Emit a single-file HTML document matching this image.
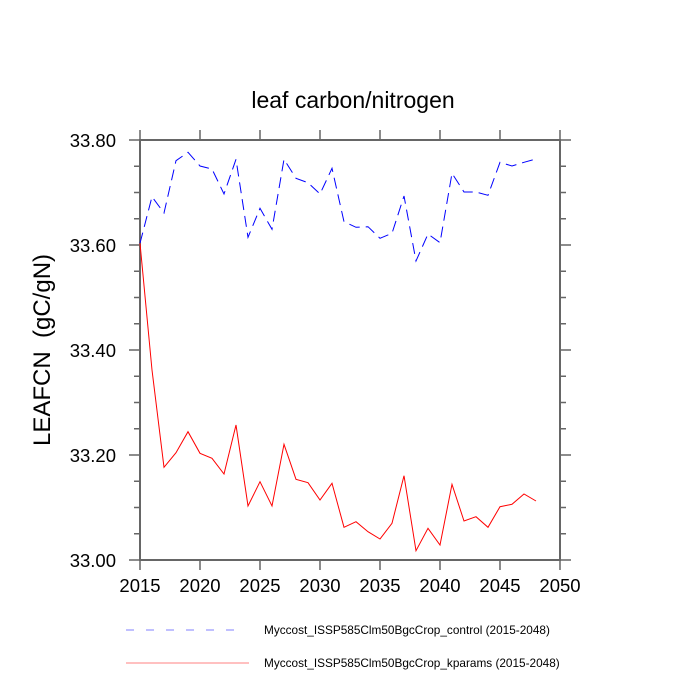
<!DOCTYPE html>
<html><head><meta charset="utf-8"><style>body{margin:0;background:#fff}svg{display:block}text{white-space:pre}</style></head>
<body>
<svg width="700" height="700" xmlns="http://www.w3.org/2000/svg" font-family="Liberation Sans, sans-serif">
<rect width="700" height="700" fill="#fff"/>
<text x="353" y="108" font-size="23" text-anchor="middle">leaf carbon/nitrogen</text>
<g stroke="#666" stroke-width="1.5" fill="none">
<rect x="140" y="140" width="420" height="420" stroke-width="2"/>
<path d="M129 140H140M129 245H140M129 350H140M129 455H140M129 560H140
M560 140H571M560 245H571M560 350H571M560 455H571M560 560H571
M134 166.25H140M134 192.5H140M134 218.75H140M134 271.25H140M134 297.5H140M134 323.75H140M134 376.25H140M134 402.5H140M134 428.75H140M134 481.25H140M134 507.5H140M134 533.75H140
M560 166.25H566M560 192.5H566M560 218.75H566M560 271.25H566M560 297.5H566M560 323.75H566M560 376.25H566M560 402.5H566M560 428.75H566M560 481.25H566M560 507.5H566M560 533.75H566
M140 560V570M200 560V570M260 560V570M320 560V570M380 560V570M440 560V570M500 560V570M560 560V570
M140 140V130M200 140V130M260 140V130M320 140V130M380 140V130M440 140V130M500 140V130M560 140V130"/>
</g>
<g font-size="18.5" text-anchor="end">
<text x="116" y="147">33.80</text><text x="116" y="252">33.60</text><text x="116" y="357">33.40</text><text x="116" y="462">33.20</text><text x="116" y="567">33.00</text>
</g>
<g font-size="18.5" text-anchor="middle">
<text x="140" y="592">2015</text><text x="200" y="592">2020</text><text x="260" y="592">2025</text><text x="320" y="592">2030</text><text x="380" y="592">2035</text><text x="440" y="592">2040</text><text x="500" y="592">2045</text><text x="560" y="592">2050</text>
</g>
<text transform="translate(50,350) rotate(-90)" font-size="24" text-anchor="middle" xml:space="preserve">LEAFCN  (gC/gN)</text>
<polyline fill="none" stroke="#00f" stroke-width="1" stroke-dasharray="11,6" points="140,243.3 152,196.7 164,213 176,160.7 188,152.3 200,166 212,169 224,194 236,159.3 248,237.3 260,208.3 272,229.3 284,159.3 296,178.3 308,182.7 320,194 332,168.3 344,221.7 356,227.3 368,226.7 380,238.3 392,233.3 404,196 416,261 428,234 440,242.7 452,173.3 464,192 476,192 488,195.3 500,162.3 512,166 524,162.3 536,159"/>
<polyline fill="none" stroke="#f00" stroke-width="1" points="140,243.3 152,370 164,467.3 176,452.7 188,431.7 200,453.3 212,458.3 224,474 236,425 248,506 260,481.7 272,506 284,444.3 296,479.3 308,482.7 320,500 332,483.3 344,527.3 356,521.7 368,531.7 380,539 392,523.3 404,475.7 416,550.7 428,528.3 440,545 452,484.3 464,521 476,516.7 488,527.3 500,506.7 512,504.3 524,494 536,501"/>
<line x1="126" y1="630" x2="242" y2="630" stroke="#8080ff" stroke-width="1" stroke-dasharray="8,12"/>
<line x1="126" y1="663" x2="249" y2="663" stroke="#ff8080" stroke-width="1"/>
<g font-size="11.8">
<text x="264" y="634">Myccost_ISSP585Clm50BgcCrop_control (2015-2048)</text>
<text x="264" y="667">Myccost_ISSP585Clm50BgcCrop_kparams (2015-2048)</text>
</g>
</svg>
</body></html>
